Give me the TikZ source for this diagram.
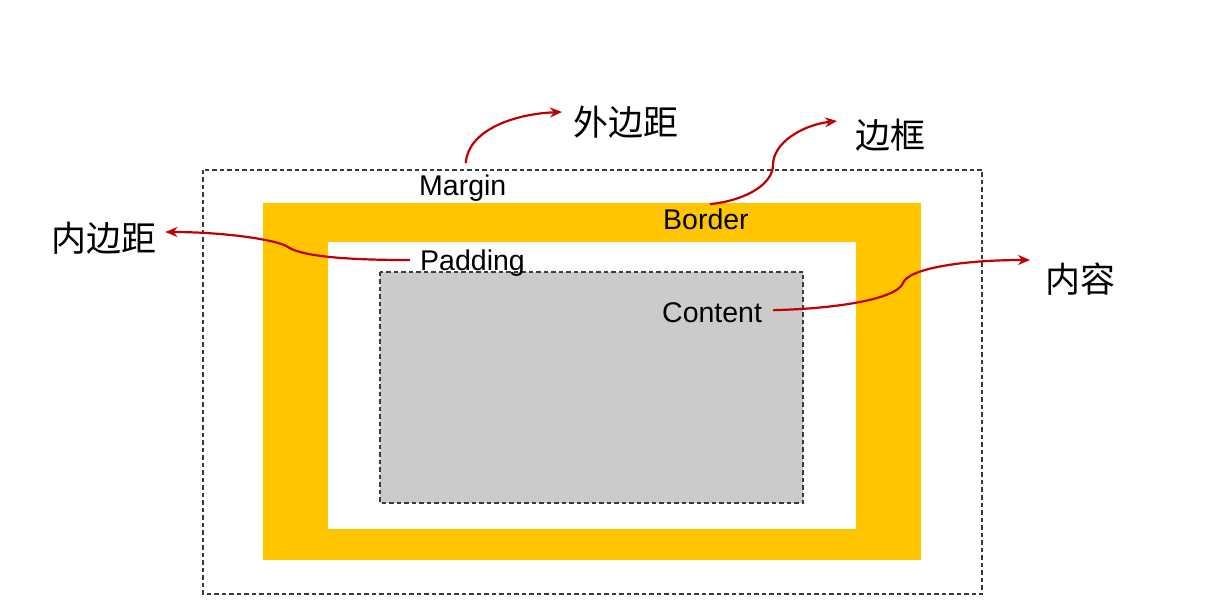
\documentclass[tikz,border=0pt]{standalone}
\usepackage{fontspec}
\setmainfont{Liberation Sans}
\newfontfamily\cjk{Noto Sans CJK SC}
\usetikzlibrary{arrows.meta,calc}
\definecolor{gold}{HTML}{FFC600}
\definecolor{arrred}{HTML}{C00000}
\definecolor{contentgrey}{HTML}{CBCBCB}
\definecolor{dashgrey}{HTML}{3A3A3A}
\begin{document}
\begin{tikzpicture}[x=1pt,y=-1pt,
  dashbox/.style={draw=dashgrey, line width=1.3pt, dash pattern=on 4.5pt off 3pt},
  lbl/.style={font=\fontsize{28.5}{30}\selectfont, inner sep=0pt},
  cn/.style={font=\cjk\fontsize{35}{38}\selectfont, inner sep=0pt},
  pointer/.style={draw=arrred, line width=2.2pt, -{Stealth[length=12pt,width=10pt]}}]
\useasboundingbox (0,0) rectangle (1213,601);
\fill[white] (0,0) rectangle (1213,601);
% boxes
\draw[dashbox] (203,170) rectangle (982,594);
\fill[gold] (263,203) rectangle (921,560);
\fill[white] (328,242) rectangle (856,529);
\filldraw[fill=contentgrey, dashbox] (380,272) rectangle (803,503);
% labels
\node[lbl, anchor=base west] (margin) at (419,196) {Margin};
\node[lbl, anchor=base west] (border) at (663,230) {Border};
\node[lbl, anchor=base west] (padding) at (420,271) {Padding};
\node[lbl, anchor=base west] (content) at (662,323) {Content};
\node[cn, anchor=west] (wai) at (573,122) {外边距};
\node[cn, anchor=west] (bian) at (855,135) {边框};
\node[cn, anchor=west] (nei) at (51,238) {内边距};
\node[cn, anchor=west] (rong) at (1045,279) {内容};
% pointers
\draw[pointer] ($(margin.north)+(3,-12)$) .. controls +(2,-32) and +(-50,2) .. ($(wai.west)+(-11,-10)$);
\coordinate (bmid) at (773,165);
\draw[pointer] ($(border.north)+(4,-5)$) .. controls +(38,-4) and +(0,18) .. (bmid)
  .. controls +(0,-22) and +(-35,4) .. ($(bian.west)+(-18,-14)$);
\coordinate (pmid) at (288,247);
\draw[pointer] ($(padding.west)+(-10,-3.6)$) .. controls +(-75,0) and +(12,8) .. (pmid)
  .. controls +(-10,-7) and +(60,0) .. ($(nei.east)+(9,-6)$);
\coordinate (cmid) at (903,283);
\draw[pointer] ($(content.east)+(11,-3)$) .. controls +(75,-2) and +(-5,14) .. (cmid)
  .. controls +(5,-14) and +(-70,0) .. ($(rong.west)+(-15,-19)$);
\end{tikzpicture}
\end{document}
